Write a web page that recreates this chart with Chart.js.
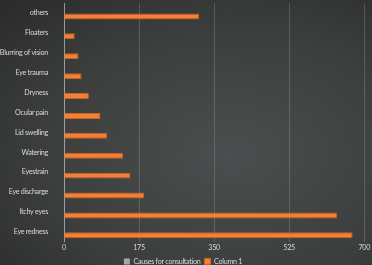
<!DOCTYPE html>
<html>
<head>
<meta charset="utf-8">
<script src="https://cdn.jsdelivr.net/npm/chart.js@4"></script>
<style>
  html, body { margin: 0; padding: 0; background: #333; }
  #wrap {
    width: 372px; height: 265px;
    background: radial-gradient(ellipse at 62% 58%, #4b4e4e 0%, #3d3f3f 55%, #2a2a2a 100%);
  }
</style>
</head>
<body>
<div id="wrap"><canvas id="causesChart" width="372" height="265"></canvas></div>
<script>
const categories = ['others', 'Floaters', 'Blurring of vision', 'Eye trauma', 'Dryness', 'Ocular pain',
    'Lid swelling', 'Watering', 'Eyestrain', 'Eye discharge', 'Itchy eyes', 'Eye redness'];
const consultationValues = [0, 0, 0, 0, 0, 0, 0, 0, 0, 0, 0, 0];
const column1Values = [315, 25, 34, 41, 58, 85, 101, 138, 155, 187, 637, 673];
const xTicks = [0, 175, 350, 525, 700];

const ctx = document.getElementById('causesChart').getContext('2d');
const labelFont = { family: 'Lato', size: 7.2 };

// tighter text, closer to the narrow font of the original
const tightText = {
    id: 'tightText',
    beforeLayout: chart => { chart.ctx.letterSpacing = '-0.3px'; },
    beforeDraw: chart => { chart.ctx.letterSpacing = '-0.3px'; },
};

new Chart(ctx, {
    type: 'bar',
    data: {
        labels: categories,
        datasets: [{
            label: 'Causes for consultation',
            data: consultationValues,
            backgroundColor: '#a5a5a5',
            borderWidth: 0,
        }, {
            label: 'Column 1',
            data: column1Values,
            backgroundColor: '#f47f35',
            borderColor: '#c9631f',
            borderWidth: 1,
            borderSkipped: 'left',
        }]
    },
    options: {
        indexAxis: 'y',
        responsive: false,
        animation: false,
        categoryPercentage: 0.7,
        barPercentage: 0.85,
        layout: { padding: { top: 3, right: 6, bottom: -10, left: 0 } },
        plugins: {
            legend: {
                position: 'bottom',
                labels: {
                    color: '#d8d8d8',
                    font: labelFont,
                    boxWidth: 6,
                    boxHeight: 6,
                    padding: 4,
                },
            },
            tooltip: { enabled: false },
        },
        scales: {
            x: {
                min: 0,
                max: 700,
                afterBuildTicks: axis => { axis.ticks = xTicks.map(v => ({ value: v })); },
                afterFit: axis => { axis.height = 12; },
                ticks: {
                    color: '#d8d8d8',
                    font: labelFont,
                    padding: 2,
                    maxRotation: 0,
                },
                grid: { color: 'rgba(255,255,255,0.16)', drawTicks: false },
                border: { display: false },
            },
            y: {
                afterFit: axis => {
                    axis.width = 64;
                    axis.paddingTop = 0;
                    axis.paddingBottom = 0;
                },
                ticks: {
                    color: '#d8d8d8',
                    font: labelFont,
                    padding: 8,
                },
                grid: { display: false },
                border: { color: 'rgba(255,255,255,0.4)' },
            }
        }
    },
    plugins: [tightText]
});
</script>
</body>
</html>
